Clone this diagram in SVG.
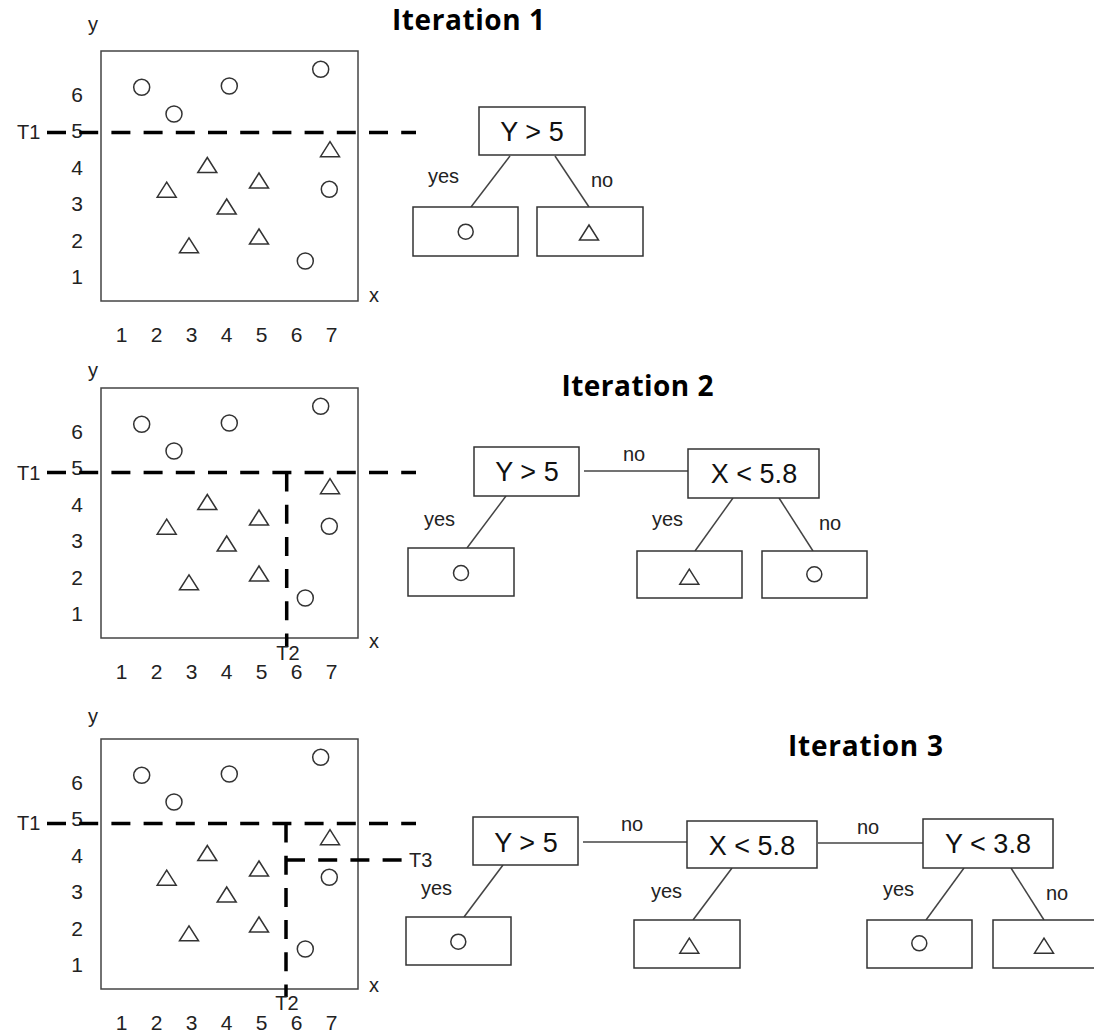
<svg xmlns="http://www.w3.org/2000/svg" xmlns:xlink="http://www.w3.org/1999/xlink" width="1094" height="1035" viewBox="0 0 1094 1035">
  <style>
    .lbl { font-family: "Liberation Sans", Arial, sans-serif; font-size: 20px; fill: #222; }
    .tick { font-family: "Liberation Sans", Arial, sans-serif; font-size: 21px; fill: #222; text-anchor: middle; }
    .cond { font-family: "Liberation Sans", Arial, sans-serif; font-size: 27px; fill: #111; text-anchor: middle; }
    .title { font-family: "Open Sans", "Liberation Sans", sans-serif; font-size: 28px; font-weight: bold; fill: #000; text-anchor: middle; }
    .box { fill: #fff; stroke: #333; stroke-width: 1.5; }
    .frame { fill: none; stroke: #444; stroke-width: 1.5; }
    .mark { fill: none; stroke: #333; stroke-width: 1.5; }
    .edge { stroke: #444; stroke-width: 1.5; fill: none; }
    .split { stroke: #000; stroke-width: 3.5; stroke-dasharray: 19 13.2; fill: none; }
  </style>
  <defs>
    <circle id="dot" r="8" class="mark"/>
    <path id="tri" d="M0,-7.5 L9.5,7.5 L-9.5,7.5 Z" class="mark"/>
    <circle id="leafDot" r="7.5" class="mark"/>
    <path id="leafTri" d="M0,-7.5 L9.5,7.5 L-9.5,7.5 Z" class="mark"/>
    <!-- scatter plot: frame, tick numbers and samples -->
    <g id="scatter">
      <rect x="101" y="51" width="257" height="250" class="frame"/>
      <text class="tick" x="77" y="101.5">6</text>
      <text class="tick" x="77" y="138">5</text>
      <text class="tick" x="77" y="174.5">4</text>
      <text class="tick" x="77" y="211">3</text>
      <text class="tick" x="77" y="247.5">2</text>
      <text class="tick" x="77" y="284">1</text>
      <text class="tick" x="121.7" y="341.5">1</text>
      <text class="tick" x="156.7" y="341.5">2</text>
      <text class="tick" x="191.7" y="341.5">3</text>
      <text class="tick" x="226.7" y="341.5">4</text>
      <text class="tick" x="261.7" y="341.5">5</text>
      <text class="tick" x="296.7" y="341.5">6</text>
      <text class="tick" x="331.7" y="341.5">7</text>
      <use xlink:href="#dot" x="141.7" y="87.3"/>
      <use xlink:href="#dot" x="174" y="114"/>
      <use xlink:href="#dot" x="229.3" y="86"/>
      <use xlink:href="#dot" x="320.7" y="69.3"/>
      <use xlink:href="#dot" x="329.3" y="189.3"/>
      <use xlink:href="#dot" x="305.3" y="261"/>
      <use xlink:href="#tri" x="166.7" y="189.7"/>
      <use xlink:href="#tri" x="207.3" y="165"/>
      <use xlink:href="#tri" x="226.7" y="206.5"/>
      <use xlink:href="#tri" x="259" y="180.5"/>
      <use xlink:href="#tri" x="189" y="245.3"/>
      <use xlink:href="#tri" x="259" y="236.5"/>
      <use xlink:href="#tri" x="330" y="149.2"/>
    </g>
  </defs>

  <rect width="1094" height="1035" fill="#fff"/>

  <!-- Iteration 1 -->
  <g id="plot1">
    <use xlink:href="#scatter"/>
    <text class="lbl" x="88" y="31">y</text>
    <text class="lbl" x="369" y="302">x</text>
    <line class="split" x1="47" y1="132.5" x2="416" y2="132.5"/>
    <text class="lbl" x="17" y="139">T1</text>
  </g>
  <text class="title" x="468.5" y="30" textLength="153">Iteration 1</text>

  <!-- Iteration 2 -->
  <g id="plot2">
    <use xlink:href="#scatter" transform="translate(0,337)"/>
    <text class="lbl" x="88" y="377">y</text>
    <text class="lbl" x="369" y="648">x</text>
    <line class="split" x1="47" y1="472.5" x2="416" y2="472.5"/>
    <line class="split" x1="286.7" y1="472.5" x2="286.7" y2="647"/>
    <text class="lbl" x="17" y="480">T1</text>
    <text class="lbl" x="288" y="660" text-anchor="middle">T2</text>
  </g>
  <text class="title" x="637.5" y="396" textLength="152">Iteration 2</text>

  <!-- Iteration 3 -->
  <g id="plot3">
    <use xlink:href="#scatter" transform="translate(0,688)"/>
    <text class="lbl" x="88" y="723">y</text>
    <text class="lbl" x="369" y="992">x</text>
    <line class="split" x1="47" y1="823.5" x2="416" y2="823.5"/>
    <line class="split" x1="286" y1="823.5" x2="286" y2="997"/>
    <line class="split" x1="286" y1="860" x2="402" y2="860"/>
    <text class="lbl" x="17" y="830">T1</text>
    <text class="lbl" x="287" y="1010" text-anchor="middle">T2</text>
    <text class="lbl" x="409" y="867">T3</text>
  </g>
  <text class="title" x="865.5" y="756" textLength="155">Iteration 3</text>

  <!-- tree connectors -->
  <g id="connectors">
    <!-- tree 1 -->
    <line class="edge" x1="510" y1="156" x2="471" y2="207"/>
    <line class="edge" x1="555" y1="156" x2="589" y2="207"/>
    <!-- tree 2 -->
    <line class="edge" x1="584" y1="471" x2="688" y2="471"/>
    <line class="edge" x1="506" y1="496" x2="467" y2="548"/>
    <line class="edge" x1="733" y1="498" x2="695" y2="551"/>
    <line class="edge" x1="779" y1="498" x2="813" y2="551"/>
    <!-- tree 3 -->
    <line class="edge" x1="583" y1="842" x2="687" y2="842"/>
    <line class="edge" x1="818" y1="843" x2="923" y2="843"/>
    <line class="edge" x1="503" y1="865" x2="464" y2="917"/>
    <line class="edge" x1="732" y1="868" x2="693" y2="920"/>
    <line class="edge" x1="964" y1="868" x2="926" y2="920"/>
    <line class="edge" x1="1011" y1="868" x2="1044" y2="920"/>
    <!-- branch labels -->
    <text class="lbl" x="428" y="183">yes</text>
    <text class="lbl" x="591" y="187">no</text>
    <text class="lbl" x="623" y="461">no</text>
    <text class="lbl" x="424" y="526">yes</text>
    <text class="lbl" x="652" y="526">yes</text>
    <text class="lbl" x="819" y="530">no</text>
    <text class="lbl" x="621" y="831">no</text>
    <text class="lbl" x="857" y="834">no</text>
    <text class="lbl" x="421" y="895">yes</text>
    <text class="lbl" x="651" y="898">yes</text>
    <text class="lbl" x="883" y="896">yes</text>
    <text class="lbl" x="1046" y="900">no</text>
  </g>

  <!-- tree 1 nodes -->
  <g id="t1-root"><rect class="box" x="479" y="107" width="106" height="48"/><text class="cond" x="532" y="141">Y &gt; 5</text></g>
  <g id="t1-yes"><rect class="box" x="413" y="207" width="105" height="49"/><use xlink:href="#leafDot" x="465.7" y="231.7"/></g>
  <g id="t1-no"><rect class="box" x="537" y="207" width="106" height="49"/><use xlink:href="#leafTri" x="589" y="232.5"/></g>

  <!-- tree 2 nodes -->
  <g id="t2-root"><rect class="box" x="474" y="447" width="105" height="49"/><text class="cond" x="527" y="481">Y &gt; 5</text></g>
  <g id="t2-x"><rect class="box" x="688" y="449" width="131" height="49"/><text class="cond" x="754" y="483">X &lt; 5.8</text></g>
  <g id="t2-yes"><rect class="box" x="408" y="548" width="106" height="48"/><use xlink:href="#leafDot" x="461" y="573"/></g>
  <g id="t2-x-yes"><rect class="box" x="637" y="551" width="105" height="47"/><use xlink:href="#leafTri" x="689.3" y="576.7"/></g>
  <g id="t2-x-no"><rect class="box" x="762" y="551" width="105" height="47"/><use xlink:href="#leafDot" x="814.3" y="574.3"/></g>

  <!-- tree 3 nodes -->
  <g id="t3-root"><rect class="box" x="473" y="817" width="105" height="48"/><text class="cond" x="526" y="852">Y &gt; 5</text></g>
  <g id="t3-x"><rect class="box" x="687" y="821" width="130" height="47"/><text class="cond" x="752" y="855">X &lt; 5.8</text></g>
  <g id="t3-y"><rect class="box" x="923" y="819" width="130" height="49"/><text class="cond" x="988" y="853">Y &lt; 3.8</text></g>
  <g id="t3-yes"><rect class="box" x="406" y="917" width="105" height="48"/><use xlink:href="#leafDot" x="458.3" y="941.7"/></g>
  <g id="t3-x-yes"><rect class="box" x="634" y="920" width="106" height="48"/><use xlink:href="#leafTri" x="689.3" y="945.7"/></g>
  <g id="t3-y-yes"><rect class="box" x="867" y="920" width="105" height="48"/><use xlink:href="#leafDot" x="919.3" y="943.3"/></g>
  <g id="t3-y-no"><rect class="box" x="993" y="920" width="106" height="48"/><use xlink:href="#leafTri" x="1044" y="945.7"/></g>
</svg>
